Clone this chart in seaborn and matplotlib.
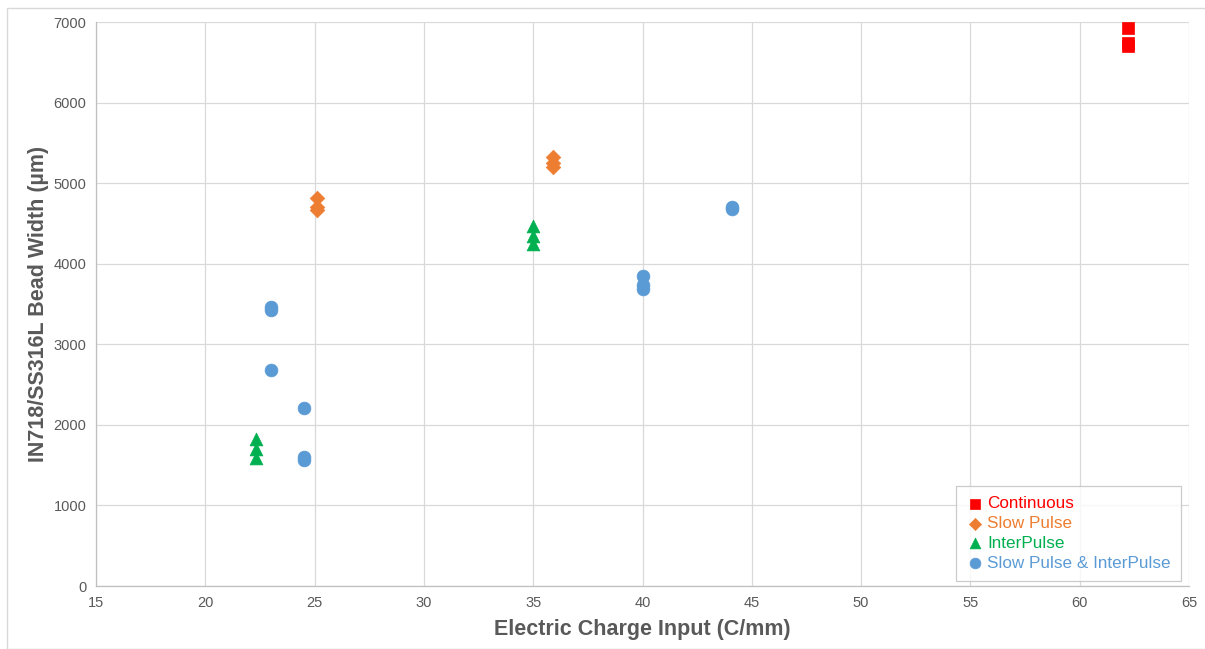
"""
Bead width vs electric charge input, scatter by pulse mode
"""
import matplotlib
matplotlib.use('Agg')
import matplotlib.pyplot as plt
import pandas as pd
import seaborn as sns
from matplotlib.patches import Rectangle

categories = ["Continuous", "Slow Pulse", "InterPulse", "Slow Pulse & InterPulse"]

continuous_x = [62.2, 62.2, 62.2]
continuous_y = [6930, 6740, 6700]

slow_x = [25.1, 25.1, 25.1, 35.9, 35.9, 35.9]
slow_y = [4810, 4700, 4670, 5320, 5250, 5200]

inter_x = [22.3, 22.3, 22.3, 35.0, 35.0, 35.0]
inter_y = [1830, 1700, 1590, 4470, 4350, 4250]

both_x = [23.0, 23.0, 23.0, 24.5, 24.5, 24.5, 40.0, 40.0, 40.0, 44.1, 44.1]
both_y = [3460, 3430, 2680, 2210, 1600, 1570, 3850, 3740, 3680, 4700, 4680]

colors = ["#FF0000", "#ED7D31", "#00B050", "#5B9BD5"]
markers = ["s", "D", "^", "o"]

xs = [continuous_x, slow_x, inter_x, both_x]
ys = [continuous_y, slow_y, inter_y, both_y]
rows = []
for cat, xv, yv in zip(categories, xs, ys):
    for a, b in zip(xv, yv):
        rows.append({"charge": a, "width": b, "mode": cat})
df = pd.DataFrame(rows)

sns.set_style("white")
plt.rcParams['font.family'] = ['Liberation Sans', 'DejaVu Sans']

fig = plt.figure(figsize=(12.05, 6.49), dpi=100)
ax = fig.add_axes([96 / 1205, 1 - 586 / 649, (1189 - 96) / 1205, (586 - 22) / 649])

sizes = {"Continuous": 75, "Slow Pulse": 55, "InterPulse": 85, "Slow Pulse & InterPulse": 85}
for cat, col, mk in zip(categories, colors, markers):
    sub = df[df["mode"] == cat]
    sns.scatterplot(x="charge", y="width", data=sub, color=col, marker=mk,
                    s=sizes[cat], edgecolor=col, linewidth=0.5, label=cat, ax=ax, zorder=3)

ax.set_xlim(15, 65)
ax.set_ylim(0, 7000)
ax.set_xticks(range(15, 66, 5))
ax.set_yticks(range(0, 7001, 1000))
ax.grid(True, color="#D9D9D9", linewidth=0.9)
ax.set_axisbelow(True)
for side in ["top", "right"]:
    ax.spines[side].set_visible(False)
for side in ["left", "bottom"]:
    ax.spines[side].set_color("#BFBFBF")
    ax.spines[side].set_linewidth(0.9)
ax.tick_params(axis="both", labelsize=10.5, colors="#595959", length=0, pad=7)
ax.set_xlabel("Electric Charge Input (C/mm)", fontsize=15.5, fontweight="bold", color="#595959", labelpad=7)
ax.set_ylabel("IN718/SS316L Bead Width (µm)", fontsize=15.5, fontweight="bold", color="#595959", labelpad=3)

leg = ax.legend(loc="lower right", bbox_to_anchor=((1181 - 96) / 1093, (586 - 581) / 564),
                frameon=True, fancybox=False,
                fontsize=12.3, labelcolor="markerfacecolor", handletextpad=0.15,
                borderpad=0.6, labelspacing=0.28, handlelength=1.1, borderaxespad=0)
leg.get_frame().set_edgecolor("#BFBFBF")
leg.get_frame().set_linewidth(0.9)
for h, sz in zip(leg.legend_handles, [50, 38, 60, 60]):
    h.set_sizes([sz])

fig.patches.append(Rectangle((7 / 1205, 0), 1, 1 - 8 / 649, transform=fig.transFigure,
                             fill=False, edgecolor="#D9D9D9", linewidth=1))

fig.savefig("out.png", dpi=100)
